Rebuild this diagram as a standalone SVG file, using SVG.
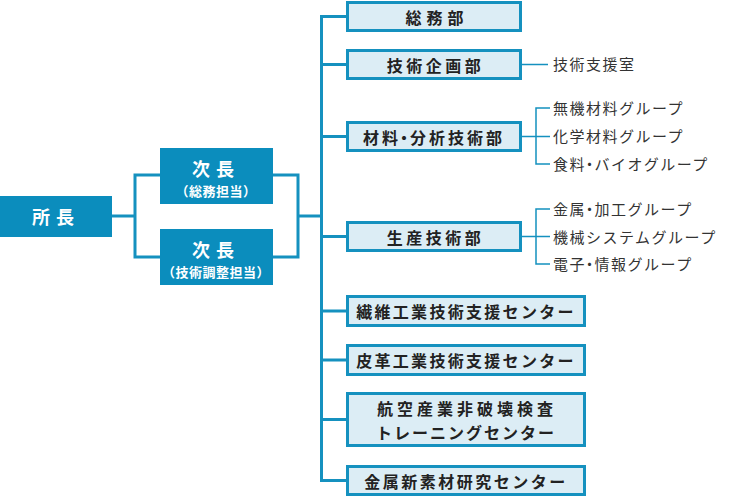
<svg xmlns="http://www.w3.org/2000/svg" width="730" height="500" viewBox="0 0 730 500">
<style>
.dark{fill:#0b8dbd}
.box{fill:#dcedf5;stroke:#1591bf;stroke-width:3}
.main{fill:none;stroke:#1591bf;stroke-width:3}
.sub{fill:none;stroke:#1591bf;stroke-width:1.5}
text{font-family:"Noto Sans CJK JP","Noto Sans",sans-serif;dominant-baseline:central}
.wt{fill:#fff;font-weight:bold;font-size:18px;text-anchor:middle}
.ws{fill:#fff;font-weight:bold;font-size:13px;text-anchor:middle;letter-spacing:0.5px}
.bt{fill:#222;font-weight:bold;font-size:16px;text-anchor:middle}
.st{fill:#333;font-size:15px;letter-spacing:1.5px}
</style>
<rect width="730" height="500" fill="#fff"/>
<g id="connectors">
<path class="main" d="M112 216H135M160 175H135V257H160M272 175H298V257H272M298 216H321.5"/>
<path class="main" d="M346 16.5H321.5V480.5H346M321.5 64.5H346M321.5 136.5H346M321.5 236.5H346M321.5 311H346M321.5 360H346M321.5 419.5H346"/>
<path class="sub" d="M522 64.5H548M522 136.5H536M550 108H536V164H550M536 136.5H550M522 236.5H536M550 209H536V264H550M536 236.5H550"/>
</g>
<g id="shocho"><rect class="dark" x="0" y="196" width="112" height="41"/><text class="wt" x="56" y="216" letter-spacing="6">所長</text></g>
<g id="jicho1"><rect class="dark" x="160" y="148" width="113" height="56"/><text class="wt" x="216" y="168" letter-spacing="6">次長</text><text class="ws" x="216" y="190">（総務担当）</text></g>
<g id="jicho2"><rect class="dark" x="160" y="229" width="113" height="56"/><text class="wt" x="216" y="249" letter-spacing="6">次長</text><text class="ws" x="216" y="271">（技術調整担当）</text></g>
<g id="somu"><rect class="box" x="347.5" y="2.5" width="173" height="28"/><text class="bt" x="437" y="16.5" letter-spacing="5">総務部</text></g>
<g id="kikaku"><rect class="box" x="347.5" y="50.5" width="173" height="28"/><text class="bt" x="435.5" y="64.5" letter-spacing="3.5">技術企画部</text></g>
<g id="zairyo"><rect class="box" x="347.5" y="122.5" width="173" height="28"/><text class="bt" x="434" y="136.5" letter-spacing="3" dx="0 0 -5 -5">材料・分析技術部</text></g>
<g id="seisan"><rect class="box" x="347.5" y="222.5" width="173" height="28"/><text class="bt" x="435.5" y="236.5" letter-spacing="3.5">生産技術部</text></g>
<g id="seni"><rect class="box" x="347.5" y="296.5" width="237" height="29"/><text class="bt" x="466" y="311" letter-spacing="2.3">繊維工業技術支援センター</text></g>
<g id="hikaku"><rect class="box" x="347.5" y="345.5" width="237" height="29"/><text class="bt" x="466" y="360" letter-spacing="2.3">皮革工業技術支援センター</text></g>
<g id="koku"><rect class="box" x="347.5" y="393.5" width="237" height="52"/><text class="bt" x="467" y="408" letter-spacing="4">航空産業非破壊検査</text><text class="bt" x="466" y="432" letter-spacing="2">トレーニングセンター</text></g>
<g id="kinzoku"><rect class="box" x="347.5" y="466.5" width="237" height="28"/><text class="bt" x="466" y="480.5" letter-spacing="2.5">金属新素材研究センター</text></g>
<g id="labels">
<text class="st" x="553" y="63.5">技術支援室</text>
<text class="st" x="553" y="107">無機材料グループ</text>
<text class="st" x="553" y="135">化学材料グループ</text>
<text class="st" x="553" y="163" dx="0 0 -4 -4">食料・バイオグループ</text>
<text class="st" x="553" y="208" dx="0 0 -4 -4">金属・加工グループ</text>
<text class="st" x="553" y="236">機械システムグループ</text>
<text class="st" x="553" y="263.5" dx="0 0 -4 -4">電子・情報グループ</text>
</g>
</svg>
